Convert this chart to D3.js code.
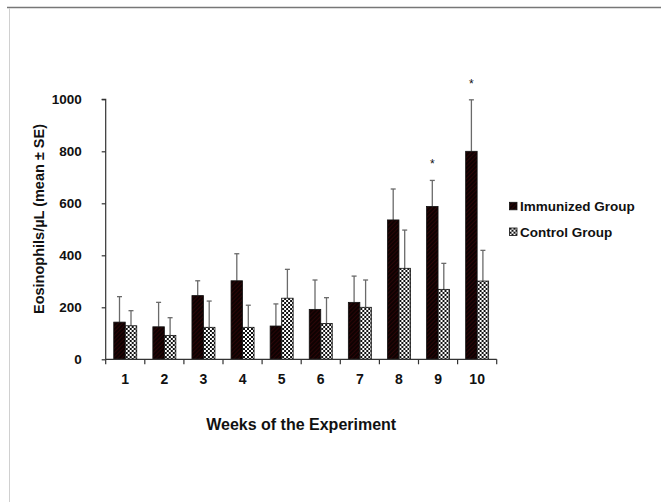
<!DOCTYPE html>
<html>
<head>
<meta charset="utf-8">
<script src="https://cdn.jsdelivr.net/npm/d3@7"></script>
<style>
  html, body { margin: 0; padding: 0; background: #fff; }
  svg { display: block; }
  text { font-family: Arial, "Liberation Sans", sans-serif; fill: #111; }
</style>
</head>
<body>
<svg id="chart" width="661" height="502"></svg>
<script>
// Weekly eosinophil counts (mean ± SE) for both groups
const weeks = ["1", "2", "3", "4", "5", "6", "7", "8", "9", "10"];
const seriesNames = ["Immunized Group", "Control Group"];
const immunizedMean = [143, 125, 245, 302, 128, 192, 219, 536, 588, 800];
const immunizedSE   = [98, 94, 57, 104, 85, 113, 101, 119, 100, 198];
const controlMean   = [129, 92, 123, 123, 235, 138, 200, 350, 269, 301];
const controlSE     = [58, 68, 101, 85, 111, 99, 105, 147, 100, 118];
const significant   = [false, false, false, false, false, false, false, false, true, true];
const yTicks = [0, 200, 400, 600, 800, 1000];

const svg = d3.select("#chart");

// Patterns: dark hatched fill and a checkerboard
const defs = svg.append("defs");
const hatch = defs.append("pattern")
  .attr("id", "hatch").attr("patternUnits", "userSpaceOnUse")
  .attr("width", 3).attr("height", 3).attr("patternTransform", "rotate(45)");
hatch.append("rect").attr("width", 3).attr("height", 3).attr("fill", "#0e0202");
hatch.append("rect").attr("width", 1).attr("height", 3).attr("fill", "#2a0507");

const checker = defs.append("pattern")
  .attr("id", "checker").attr("patternUnits", "userSpaceOnUse")
  .attr("width", 4).attr("height", 4);
checker.append("rect").attr("width", 4).attr("height", 4).attr("fill", "#fff");
checker.append("rect").attr("width", 2).attr("height", 2).attr("fill", "#111");
checker.append("rect").attr("x", 2).attr("y", 2).attr("width", 2).attr("height", 2).attr("fill", "#111");

// Frame lines
svg.append("line").attr("x1", 7).attr("x2", 661).attr("y1", 7.5).attr("y2", 7.5)
  .attr("stroke", "#777").attr("stroke-width", 1.5);
svg.append("line").attr("x1", 9.5).attr("x2", 9.5).attr("y1", 8).attr("y2", 502)
  .attr("stroke", "#d0d0d0").attr("stroke-width", 1);

const plot = { left: 105.7, right: 496.7, top: 99.3, bottom: 359.3 };

const x0 = d3.scaleBand().domain(weeks).range([plot.left, plot.right]).padding(0);
const x1 = d3.scaleBand().domain(seriesNames).range([0, x0.bandwidth()])
  .paddingInner(0).paddingOuter(0.7);
const y = d3.scaleLinear().domain([0, 1000]).range([plot.bottom, plot.top]);

const rows = weeks.map((w, i) => ({
  week: w,
  sig: significant[i],
  values: [
    { name: seriesNames[0], mean: immunizedMean[i], se: immunizedSE[i], fill: "url(#hatch)" },
    { name: seriesNames[1], mean: controlMean[i], se: controlSE[i], fill: "url(#checker)" }
  ]
}));

const groups = svg.append("g").selectAll("g").data(rows).join("g")
  .attr("transform", d => `translate(${x0(d.week)},0)`);

// Error bars (upper only)
groups.selectAll("g.err").data(d => d.values).join("g").attr("class", "err")
  .each(function(v) {
    const g = d3.select(this);
    const cx = x1(v.name) + x1.bandwidth() / 2;
    g.append("line").attr("x1", cx).attr("x2", cx)
      .attr("y1", y(v.mean)).attr("y2", y(v.mean + v.se))
      .attr("stroke", "#6a6a6a").attr("stroke-width", 1.3);
    g.append("line").attr("x1", cx - 2.5).attr("x2", cx + 2.5)
      .attr("y1", y(v.mean + v.se)).attr("y2", y(v.mean + v.se))
      .attr("stroke", "#6a6a6a").attr("stroke-width", 1.3);
  });

// Bars
groups.selectAll("rect").data(d => d.values).join("rect")
  .attr("x", v => x1(v.name))
  .attr("width", x1.bandwidth())
  .attr("y", v => y(v.mean))
  .attr("height", v => y(0) - y(v.mean))
  .attr("fill", v => v.fill)
  .attr("stroke", "#111").attr("stroke-width", 0.8);

// Significance markers
groups.filter(d => d.sig).append("text")
  .attr("x", x1(seriesNames[0]) + x1.bandwidth() / 2)
  .attr("y", d => y(d.values[0].mean + d.values[0].se) - 12)
  .attr("text-anchor", "middle")
  .style("font-size", "12px")
  .text("*");

// Y axis
const yAxis = svg.append("g").attr("transform", `translate(${plot.left},0)`)
  .call(d3.axisLeft(y).tickValues(yTicks).tickFormat(d3.format("d")).tickSize(4).tickPadding(20));
yAxis.selectAll("path, line").attr("stroke", "#333").attr("stroke-width", 1.2);
yAxis.select(".domain").attr("d", `M-4,${plot.top}H0V${plot.bottom}`);
yAxis.selectAll("text").style("font-size", "13.5px").style("font-weight", "bold")
  .style("font-family", "Arial, 'Liberation Sans', sans-serif").attr("fill", "#111");

// X axis: labels centred on groups, ticks at group boundaries
const xAxis = svg.append("g").attr("transform", `translate(0,${plot.bottom})`)
  .call(d3.axisBottom(x0).tickSize(0).tickPadding(15));
xAxis.select(".domain").attr("stroke", "#333").attr("stroke-width", 1.2)
  .attr("d", `M${plot.left},0H${plot.right}`);
xAxis.selectAll("text").style("font-size", "14px").style("font-weight", "bold")
  .style("font-family", "Arial, 'Liberation Sans', sans-serif").attr("fill", "#111");
const boundaries = weeks.map(w => x0(w)).concat([plot.right]);
xAxis.selectAll("line.bound").data(boundaries).join("line").attr("class", "bound")
  .attr("x1", d => d).attr("x2", d => d).attr("y1", 0).attr("y2", 5)
  .attr("stroke", "#333").attr("stroke-width", 1.2);

// Axis titles
svg.append("text")
  .attr("x", (plot.left + plot.right) / 2).attr("y", 430)
  .attr("text-anchor", "middle")
  .style("font-size", "16px").style("font-weight", "bold")
  .text("Weeks of the Experiment");

svg.append("text")
  .attr("transform", `translate(44,219) rotate(-90)`)
  .attr("text-anchor", "middle")
  .style("font-size", "14.5px").style("font-weight", "bold")
  .text("Eosinophils/µL (mean ± SE)");

// Legend
const legend = svg.append("g").selectAll("g")
  .data([{ name: seriesNames[0], fill: "url(#hatch)" }, { name: seriesNames[1], fill: "url(#checker)" }])
  .join("g")
  .attr("transform", (d, i) => `translate(509.5,${206 + i * 25.7})`);
legend.append("rect").attr("x", 0).attr("y", -3.7).attr("width", 7.5).attr("height", 7.5)
  .attr("fill", d => d.fill).attr("stroke", "#111").attr("stroke-width", 0.8);
legend.append("text").attr("x", 10.5).attr("y", 0).attr("dy", "0.36em")
  .style("font-size", "13.5px").style("font-weight", "bold")
  .text(d => d.name);
</script>
</body>
</html>
